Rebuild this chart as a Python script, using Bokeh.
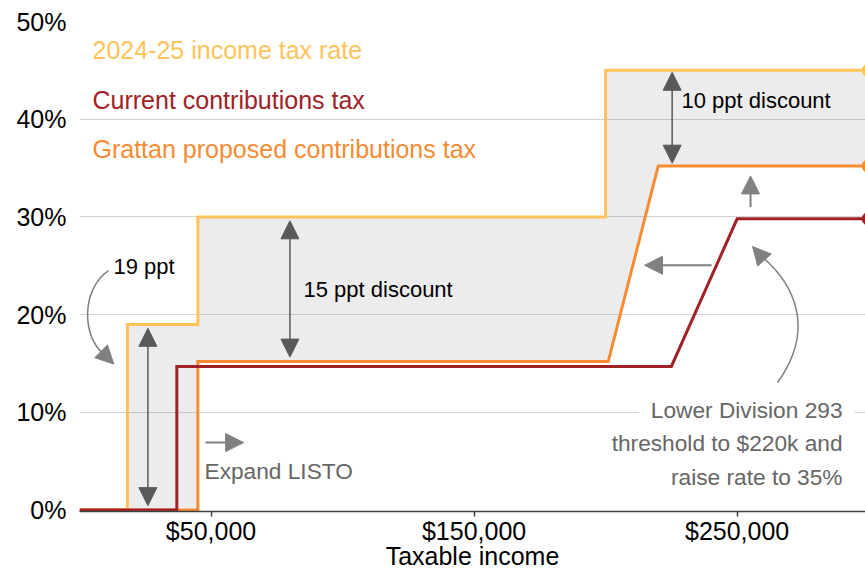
from bokeh.plotting import figure
from bokeh.models import Range1d, FixedTicker, Arrow, NormalHead, Label
from bokeh.embed import file_html
from bokeh.resources import INLINE

# ---- data (income in $, rates in %) ----
income_tax_x = [0, 18200, 18200, 45000, 45000, 200000, 200000, 300000]
income_tax_y = [0, 0, 19, 19, 30, 30, 45, 45]

current_x = [0, 37000, 37000, 225000, 250000, 300000]
current_y = [0, 0, 14.7, 14.7, 29.8, 29.8]

grattan_x = [0, 45000, 45000, 201000, 220000, 300000]
grattan_y = [0, 0, 15.2, 15.2, 35.2, 35.2]

x_ticks = [50000, 150000, 250000]
x_tick_labels = ["$50,000", "$150,000", "$250,000"]
y_ticks = [0, 10, 20, 30, 40, 50]
y_tick_labels = ["0%", "10%", "20%", "30%", "40%", "50%"]

series_names = ["2024-25 income tax rate", "Current contributions tax",
                "Grattan proposed contributions tax"]

YELLOW = "#FFC35A"
ORANGE = "#F68B33"
RED = "#A02226"
DARK = "#595959"
LIGHT = "#808080"
GREYTXT = "#666666"
FONT = "Liberation Sans"

p = figure(width=865, height=579, output_backend="svg", toolbar_location=None,
           x_range=Range1d(0, 298800), y_range=Range1d(-0.15, 50.0),
           min_border_left=79, min_border_right=0, min_border_top=21,
           min_border_bottom=68)
p.styles = {"margin-bottom": "-8px", "overflow": "hidden"}
p.outline_line_color = None
p.background_fill_color = "white"
p.border_fill_color = "white"

# grids
p.xgrid.grid_line_color = None
p.ygrid.grid_line_color = "#D4D4D4"
p.ygrid.grid_line_width = 1
p.ygrid.ticker = FixedTicker(ticks=y_ticks[1:])

# axes
p.xaxis.ticker = FixedTicker(ticks=x_ticks)
p.xaxis.major_label_overrides = dict(zip(x_ticks, x_tick_labels))
p.xaxis.major_label_text_font = FONT
p.xaxis.major_label_text_font_size = "25px"
p.xaxis.major_label_text_color = "black"
p.xaxis.major_label_standoff = 0
p.xaxis.axis_label = "Taxable income"
p.xaxis.axis_label_text_font = FONT
p.xaxis.axis_label_text_font_size = "25px"
p.xaxis.axis_label_text_font_style = "normal"
p.xaxis.axis_label_text_color = "black"
p.xaxis.axis_label_standoff = -6
p.xaxis.axis_line_color = "#404040"
p.xaxis.axis_line_width = 1.5
p.xaxis.major_tick_line_color = "#404040"
p.xaxis.major_tick_line_width = 1.5
p.xaxis.major_tick_out = 5
p.xaxis.major_tick_in = 0
p.xaxis.minor_tick_line_color = None

p.yaxis.ticker = FixedTicker(ticks=y_ticks)
p.yaxis.major_label_overrides = dict(zip(y_ticks, y_tick_labels))
p.yaxis.major_label_text_font = FONT
p.yaxis.major_label_text_font_size = "25px"
p.yaxis.major_label_text_color = "black"
p.yaxis.axis_line_color = None
p.yaxis.major_tick_line_color = None
p.yaxis.minor_tick_line_color = None
p.yaxis.major_tick_out = 0
p.yaxis.major_label_standoff = 13

# shaded discount area between income tax and proposed contributions tax
p.patch(income_tax_x + grattan_x[::-1], income_tax_y + grattan_y[::-1],
        fill_color="black", fill_alpha=0.075, line_color=None)

# lines
p.line(income_tax_x, income_tax_y, line_color=YELLOW, line_width=3, line_join="miter")
p.line(grattan_x, grattan_y, line_color=ORANGE, line_width=3, line_join="miter")
p.line(current_x, current_y, line_color=RED, line_width=3, line_join="miter")

p.scatter([income_tax_x[-1]], [income_tax_y[-1]], size=13, color=YELLOW)
p.scatter([grattan_x[-1]], [grattan_y[-1]], size=13, color=ORANGE)
p.scatter([current_x[-1]], [current_y[-1]], size=13, color=RED)

# double-headed discount arrows
def dbl_arrow(x, y0, y1):
    p.add_layout(Arrow(x_start=x, y_start=y0, x_end=x, y_end=y1,
                       line_color=DARK, line_width=1.5,
                       start=NormalHead(size=18, fill_color=DARK, line_color=DARK),
                       end=NormalHead(size=18, fill_color=DARK, line_color=DARK)))

dbl_arrow(26000, 0.45, 18.6)
dbl_arrow(80000, 15.65, 29.6)
dbl_arrow(225300, 35.5, 44.8)

# light single arrows
def arrow(x0, y0, x1, y1, lw=2):
    p.add_layout(Arrow(x_start=x0, y_start=y0, x_end=x1, y_end=y1,
                       line_color=LIGHT, line_width=lw,
                       end=NormalHead(size=18, fill_color=LIGHT, line_color=LIGHT)))

arrow(47900, 6.9, 62400, 6.9)
arrow(240300, 25.05, 214800, 25.05)
arrow(255100, 31.0, 255100, 34.2)

# curved arrows
p.bezier(x0=[265350], y0=[13.03], x1=[258890], y1=[26.05],
         cx0=[279800], cy0=[18.46], cx1=[272190], cy1=[23.08],
         line_color=LIGHT, line_width=1.5)
arrow(258890, 26.05, 255850, 26.97, lw=0.1)

p.bezier(x0=[11025], y0=[24.5], x1=[9124], y1=[16.0],
         cx0=[380], cy0=[22.56], cx1=[1140], cy1=[17.64],
         line_color=LIGHT, line_width=1.5)
arrow(9124, 16.0, 13040, 14.94, lw=0.1)

# legend texts
for name, col, yy in zip(series_names, [YELLOW, RED, ORANGE], [47.08, 41.95, 36.92]):
    p.add_layout(Label(x=4942, y=yy, text=name, text_color=col, text_font=FONT,
                       text_font_size="25px", text_baseline="middle"))

def note(x, y, t, color="black", size="22px", align="left", bg=None):
    lab = Label(x=x, y=y, text=t, text_color=color, text_font=FONT,
                text_font_size=size, text_baseline="middle", text_align=align)
    if bg:
        lab.background_fill_color = bg
        lab.padding = 12
        lab.x_offset = 12
    p.add_layout(lab)

note(12925, 24.92, "19 ppt")
note(85155, 22.56, "15 ppt discount")
note(228850, 41.95, "10 ppt discount")
note(47520, 4.0, "Expand LISTO", color=GREYTXT, size="22.7px")
note(290060, 10.26, "Lower Division 293", color=GREYTXT, size="22.7px", align="right", bg="white")
note(290060, 6.84, "threshold to $220k and", color=GREYTXT, size="22.7px", align="right")
note(290060, 3.42, "raise rate to 35%", color=GREYTXT, size="22.7px", align="right")

open("out.html", "w").write(file_html(p, INLINE))
